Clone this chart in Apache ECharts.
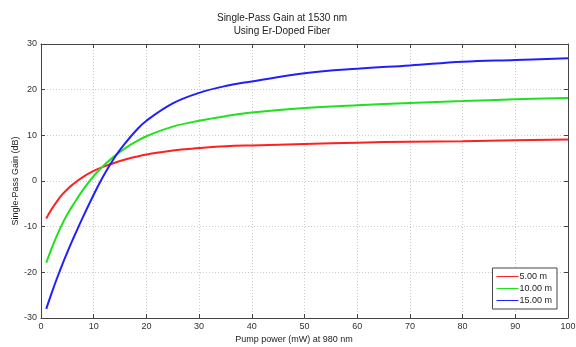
<!DOCTYPE html>
<html><head><meta charset="utf-8">
<script src="https://cdn.jsdelivr.net/npm/echarts@6/dist/echarts.min.js"></script>
<style>html,body{margin:0;padding:0;background:#fff}#c{width:576px;height:347px}</style>
</head><body><div id="c"></div>
<script>
const pump   = [1,2,3,4,5,6,8,10,12,14,16,18,20,25,30,35,40,50,60,70,80,90,100];
const gain5  = [-8.2,-6.2,-4.5,-3.0,-1.8,-0.8,0.9,2.2,3.2,4.0,4.7,5.3,5.8,6.7,7.2,7.6,7.8,8.1,8.4,8.6,8.7,8.9,9.1];
const gain10 = [-17.9,-14.8,-12.0,-9.5,-7.3,-5.4,-1.9,1.1,3.5,5.5,7.2,8.6,9.8,11.9,13.2,14.2,15.0,16.0,16.6,17.1,17.5,17.9,18.2];
const gain15 = [-28,-24.6,-21.4,-18.4,-15.6,-12.9,-7.8,-3.0,1.4,5.2,8.3,11.0,13.2,17.0,19.3,20.8,21.8,23.6,24.6,25.3,26.1,26.5,26.9];
const names = ['5.00 m','10.00 m','15.00 m'];
const colors = ['#ff2020','#20e020','#2020ff'];
const titleLines = ['Single-Pass Gain at 1530 nm','Using Er-Doped Fiber'];
const xLabel = 'Pump power (mW) at 980 nm';
const yLabel = 'Single-Pass Gain (dB)';

const font = 'Liberation Sans, Arial, sans-serif';
const pair = arr => pump.map((x,i)=>[x,arr[i]]);
const chart = echarts.init(document.getElementById('c'), null, {renderer:'canvas'});
const axisCommon = {
  axisLine:{show:true,onZero:false,lineStyle:{color:'#444',width:1}},
  axisTick:{show:true,inside:true,length:4,lineStyle:{color:'#444'}},
  splitLine:{show:false},
};
const gridLine = {show:true,lineStyle:{color:'#ccc',type:[1,2],width:1}};
chart.setOption({
  animation:false,
  title:{text:titleLines.join('\n'),left:277,top:7,textAlign:'center',
    textStyle:{fontFamily:font,fontSize:10,fontWeight:'normal',color:'#222',lineHeight:13}},
  grid:{left:41,right:8,top:44,bottom:29,containLabel:false,outerBoundsMode:'none'},
  legend:{orient:'vertical',right:19,top:268,itemWidth:22,itemHeight:8,itemGap:3,
    backgroundColor:'#fff',borderColor:'#444',borderWidth:1,borderRadius:0,padding:[4,5,4,4],
    textStyle:{fontFamily:font,fontSize:9,color:'#222',padding:[0,0,0,-4]},
    data:names.map(n=>({name:n,icon:'path://M0,4L22,4L22,5L0,5Z'}))},
  graphic:[
    {type:'text',left:'center',x:0,style:{text:xLabel,x:294,y:340,fontFamily:font,fontSize:9,fill:'#222',align:'center',verticalAlign:'middle'},left:null},
    {type:'text',rotation:Math.PI/2,x:16,y:181,style:{text:yLabel,fontFamily:font,fontSize:9,fill:'#222',align:'center',verticalAlign:'middle'}}
  ],
  xAxis:[
    Object.assign({},axisCommon,{type:'value',min:0,max:100,interval:10,position:'bottom',
      axisLabel:{fontFamily:font,fontSize:9,color:'#333',margin:4},
      splitLine:gridLine}),
    Object.assign({},axisCommon,{type:'value',min:0,max:100,interval:10,position:'top',axisLabel:{show:false}})
  ],
  yAxis:[
    Object.assign({},axisCommon,{type:'value',min:-30,max:30,interval:10,position:'left',
      axisLabel:{fontFamily:font,fontSize:9,color:'#333',margin:4},
      splitLine:gridLine}),
    Object.assign({},axisCommon,{type:'value',min:-30,max:30,interval:10,position:'right',axisLabel:{show:false}})
  ],
  series:[gain5,gain10,gain15].map((arr,i)=>({
    name:names[i],type:'line',smooth:0.4,data:pair(arr),
    showSymbol:false,symbol:'circle',symbolSize:2,
    lineStyle:{color:colors[i],width:2},itemStyle:{color:colors[i]}
  }))
});
</script></body></html>
